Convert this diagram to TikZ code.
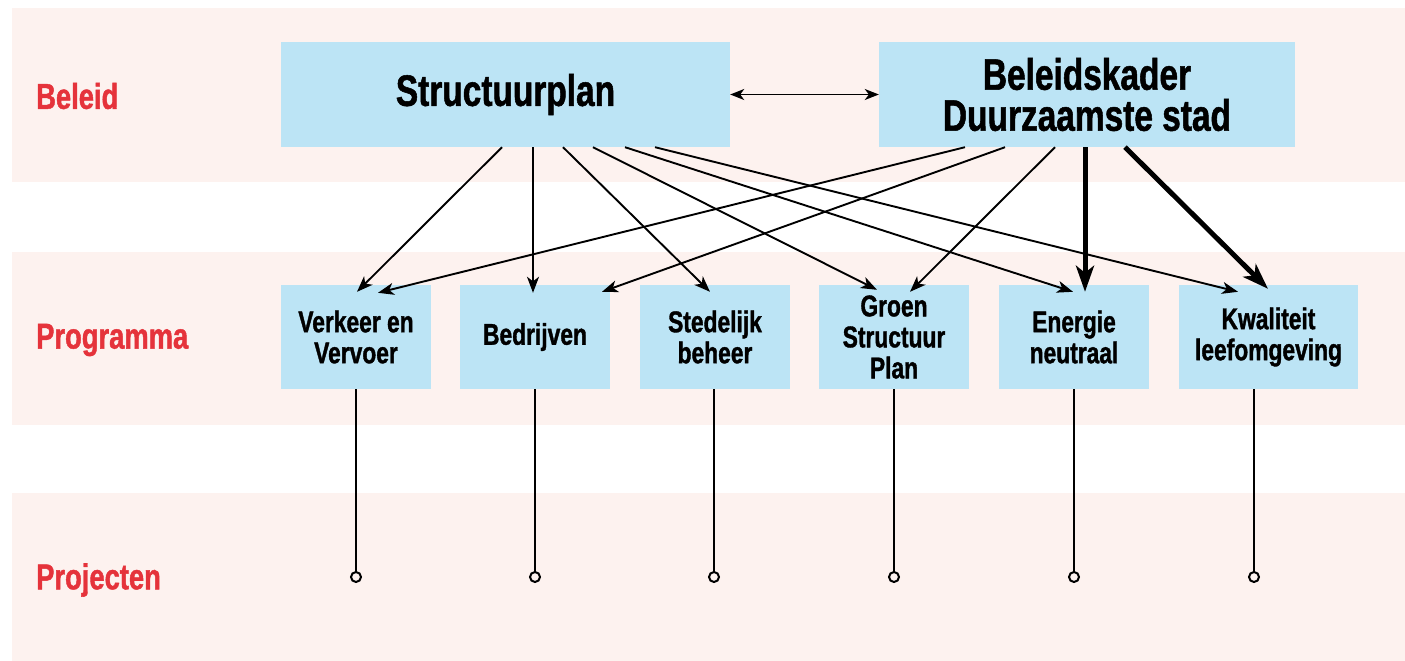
\documentclass[tikz,border=0pt]{standalone}
\usepackage{fontspec}
\setmainfont{Liberation Sans}[FakeStretch=0.76, FakeBold=1.2]
\usetikzlibrary{arrows.meta}
\definecolor{bandc}{HTML}{FDF2EF}
\definecolor{boxc}{HTML}{BCE4F5}
\definecolor{labc}{HTML}{E5333B}
\tikzset{
  bandrect/.style={fill=bandc, draw=none},
  topbox/.style={fill=boxc, draw=none, inner sep=0pt, align=center,
    font=\bfseries\fontsize{44}{41}\selectfont},
  progbox/.style={fill=boxc, draw=none, inner sep=0pt, align=center,
    minimum height=104, font=\bfseries\fontsize{30}{31}\selectfont},
  rowlabel/.style={anchor=west, inner sep=0pt, text=labc,
    font=\bfseries\fontsize{36}{36}\selectfont},
  thinarrow/.style={line width=1.9pt, -{Stealth[length=16pt,width=12pt,inset=4.5pt]}},
  thickarrow/.style={line width=5pt, -{Stealth[length=26pt,width=18pt,inset=7pt]}},
  duoarrow/.style={line width=1.8pt, {Stealth[length=14pt,width=11pt,inset=4pt]}-{Stealth[length=14pt,width=11pt,inset=4pt]}},
  stem/.style={line width=2pt},
  enddot/.style={circle, draw, line width=2pt, fill=bandc, minimum size=10pt, inner sep=0pt}
}
\begin{document}
\begin{tikzpicture}[x=1pt, y=-1pt]
\useasboundingbox (0,0) rectangle (1405,661);
% bands
\fill[bandrect] (12,8) rectangle (1405,182);
\fill[bandrect] (12,252) rectangle (1405,425);
\fill[bandrect] (12,493) rectangle (1405,661);
% row labels
\node[rowlabel] (lbel) at (36,96) {Beleid};
\node[rowlabel] (lprog) at (36,340) {Programma};
\node[rowlabel] (lproj) at (36,580) {Projecten};
% top boxes
\node[topbox, minimum width=449, minimum height=105] (sp) at (505.5,94.5) {Structuurplan};
\node[topbox, minimum width=416, minimum height=105] (bk) at (1087,94.5) {Beleidskader\\Duurzaamste stad};
% programme boxes
\node[progbox, minimum width=150] (ve) at (356,337) {Verkeer en\\Vervoer};
\node[progbox, minimum width=150] (be) at (535,337) {Bedrijven};
\node[progbox, minimum width=150] (st) at (715,337) {Stedelijk\\beheer};
\node[progbox, minimum width=150] (gr) at (894,337) {Groen\\Structuur\\Plan};
\node[progbox, minimum width=150] (en) at (1074,337) {Energie\\neutraal};
\node[progbox, minimum width=179] (kw) at (1268.5,337) {Kwaliteit\\leefomgeving};
% double arrow
\draw[duoarrow] (sp.east) -- (bk.west);
% arrows from Structuurplan
\draw[thinarrow] ([xshift=-3.5pt]sp.south) -- ([xshift=1pt,yshift=-7pt]ve.north);
\draw[thinarrow] ([xshift=27.5pt]sp.south) -- ([xshift=-2pt,yshift=-8pt]be.north);
\draw[thinarrow] ([xshift=57.5pt]sp.south) -- ([xshift=-5pt,yshift=-7pt]st.north);
\draw[thinarrow] ([xshift=87.5pt]sp.south) -- ([xshift=-17pt,yshift=-5pt]gr.north);
\draw[thinarrow] ([xshift=119.5pt]sp.south) -- ([xshift=-1pt,yshift=-7pt]en.north);
\draw[thinarrow] ([xshift=149.5pt]sp.south) -- ([xshift=-30.5pt,yshift=-7pt]kw.north);
% arrows from Beleidskader
\draw[thinarrow] ([xshift=-122pt]bk.south) -- ([xshift=22pt,yshift=-8pt]ve.north);
\draw[thinarrow] ([xshift=-82pt]bk.south) -- ([xshift=67pt,yshift=-7pt]be.north);
\draw[thinarrow] ([xshift=-32pt]bk.south) -- ([xshift=16pt,yshift=-7pt]gr.north);
\draw[thickarrow] ([xshift=-2pt]bk.south) -- ([xshift=11pt,yshift=-7pt]en.north);
\draw[thickarrow] ([xshift=38pt]bk.south) -- ([xshift=-0.5pt,yshift=-4pt]kw.north);
% project stems
\node[enddot] (p1) at (356,577) {};
\node[enddot] (p2) at (535,577) {};
\node[enddot] (p3) at (714,577) {};
\node[enddot] (p4) at (894,577) {};
\node[enddot] (p5) at (1074,577) {};
\node[enddot] (p6) at (1254,577) {};
\draw[stem] (ve.south -| p1) -- (p1.north);
\draw[stem] (be.south -| p2) -- (p2.north);
\draw[stem] (st.south -| p3) -- (p3.north);
\draw[stem] (gr.south -| p4) -- (p4.north);
\draw[stem] (en.south -| p5) -- (p5.north);
\draw[stem] (kw.south -| p6) -- (p6.north);
\end{tikzpicture}
\end{document}
